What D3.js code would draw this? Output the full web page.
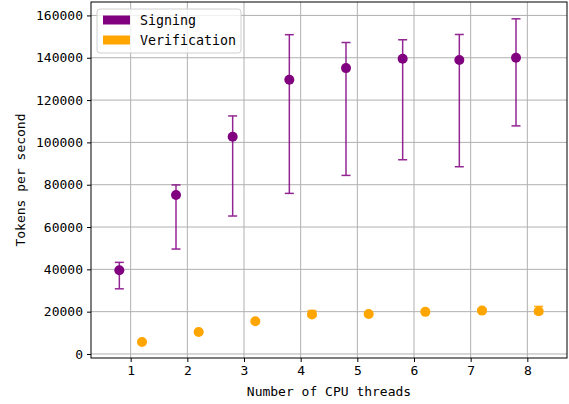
<!DOCTYPE html>
<html>
<head>
<meta charset="utf-8">
<script src="https://cdn.jsdelivr.net/npm/d3@7"></script>
<style>
  body { margin: 0; background: #fff; }
  svg text { font-family: "DejaVu Sans Mono", monospace; }
</style>
</head>
<body>
<div id="viz"></div>
<script>
// thread counts (categories)
var threads = [1, 2, 3, 4, 5, 6, 7, 8];

// signing: mean, low, high
var signMean = [39600, 75100, 102700, 129600, 135100, 139500, 138900, 140000];
var signLow  = [30800, 49600, 65200, 75900, 84400, 91800, 88500, 107800];
var signHigh = [43300, 79900, 112500, 150900, 147200, 148500, 151000, 158400];

// verification: mean, low, high
var verMean = [5700, 10400, 15500, 18700, 18900, 19900, 20500, 20200];
var verLow  = [5400, 10000, 15000, 17800, 18500, 19500, 19800, 19000];
var verHigh = [6000, 10800, 16000, 20500, 19400, 20400, 21200, 22500];

var yTicks = [0, 20000, 40000, 60000, 80000, 100000, 120000, 140000, 160000];

var W = 569, H = 404,
    margin = { top: 2, right: 2, bottom: 46, left: 91 },
    width = W - margin.left - margin.right,
    height = H - margin.top - margin.bottom;

var purple = '#800080', orange = '#ffa500';

var svg = d3.select('#viz').append('svg')
  .attr('width', W)
  .attr('height', H);

var g = svg.append('g')
  .attr('transform', 'translate(' + margin.left + ',' + margin.top + ')');

var x = d3.scaleLinear().domain([0.3, 8.7]).range([0, width]);
var y = d3.scaleLinear().domain([-1900, 166350]).range([height, 0]);

// grid
g.append('g').selectAll('line').data(threads).enter().append('line')
  .attr('x1', function(d) { return x(d); })
  .attr('x2', function(d) { return x(d); })
  .attr('y1', 0).attr('y2', height)
  .attr('stroke', '#b0b0b0').attr('stroke-width', 1);
g.append('g').selectAll('line').data(yTicks).enter().append('line')
  .attr('y1', function(d) { return y(d); })
  .attr('y2', function(d) { return y(d); })
  .attr('x1', 0).attr('x2', width)
  .attr('stroke', '#b0b0b0').attr('stroke-width', 1);

// axes
var xAxis = g.append('g')
  .attr('transform', 'translate(0,' + height + ')')
  .call(d3.axisBottom(x).tickValues(threads).tickSize(4).tickPadding(4).tickFormat(d3.format('d')));
var yAxis = g.append('g')
  .call(d3.axisLeft(y).tickValues(yTicks).tickSize(4).tickPadding(4).tickFormat(d3.format('d')));
[xAxis, yAxis].forEach(function(a) {
  a.select('.domain').remove();
  a.selectAll('text').attr('font-size', 13).attr('fill', '#000')
    .style('font-family', '"DejaVu Sans Mono", monospace');
  a.selectAll('line').attr('stroke', '#000').attr('stroke-width', 1);
});

// frame
g.append('rect')
  .attr('width', width).attr('height', height)
  .attr('fill', 'none').attr('stroke', '#000').attr('stroke-width', 1);

function series(xs, mean, low, high, color) {
  var data = xs.map(function(t, i) {
    return { x: t, m: mean[i], lo: low[i], hi: high[i] };
  });
  var eb = g.append('g').attr('stroke', color).attr('stroke-width', 1.5).attr('opacity', 0.85);
  eb.selectAll('.v').data(data).enter().append('line')
    .attr('x1', function(d) { return x(d.x); })
    .attr('x2', function(d) { return x(d.x); })
    .attr('y1', function(d) { return y(d.lo); })
    .attr('y2', function(d) { return y(d.hi); });
  ['lo', 'hi'].forEach(function(k) {
    eb.selectAll('.c' + k).data(data).enter().append('line')
      .attr('x1', function(d) { return x(d.x) - 4.5; })
      .attr('x2', function(d) { return x(d.x) + 4.5; })
      .attr('y1', function(d) { return y(d[k]); })
      .attr('y2', function(d) { return y(d[k]); });
  });
  g.append('g').selectAll('circle').data(data).enter().append('circle')
    .attr('cx', function(d) { return x(d.x); })
    .attr('cy', function(d) { return y(d.m); })
    .attr('r', 5)
    .attr('fill', color);
}

series(threads.map(function(t) { return t - 0.2; }), signMean, signLow, signHigh, purple);
series(threads.map(function(t) { return t + 0.2; }), verMean, verLow, verHigh, orange);

// axis labels
svg.append('text')
  .attr('x', margin.left + width / 2).attr('y', 396)
  .attr('text-anchor', 'middle').attr('font-size', 13)
  .text('Number of CPU threads');
svg.append('text')
  .attr('transform', 'translate(25,' + (margin.top + height / 2) + ') rotate(-90)')
  .attr('text-anchor', 'middle').attr('font-size', 13)
  .text('Tokens per second');

// legend
var leg = svg.append('g').attr('transform', 'translate(97,9)');
leg.append('rect')
  .attr('width', 144).attr('height', 44).attr('rx', 3)
  .attr('fill', '#fff').attr('fill-opacity', 0.8)
  .attr('stroke', '#d0d0d0').attr('stroke-width', 1);
var items = [['Signing', purple], ['Verification', orange]];
items.forEach(function(it, i) {
  leg.append('rect')
    .attr('x', 6).attr('y', 6.5 + i * 20)
    .attr('width', 27).attr('height', 9)
    .attr('fill', it[1]);
  leg.append('text')
    .attr('x', 43).attr('y', 15.5 + i * 20)
    .attr('font-size', 13.3)
    .text(it[0]);
});
</script>
</body>
</html>
